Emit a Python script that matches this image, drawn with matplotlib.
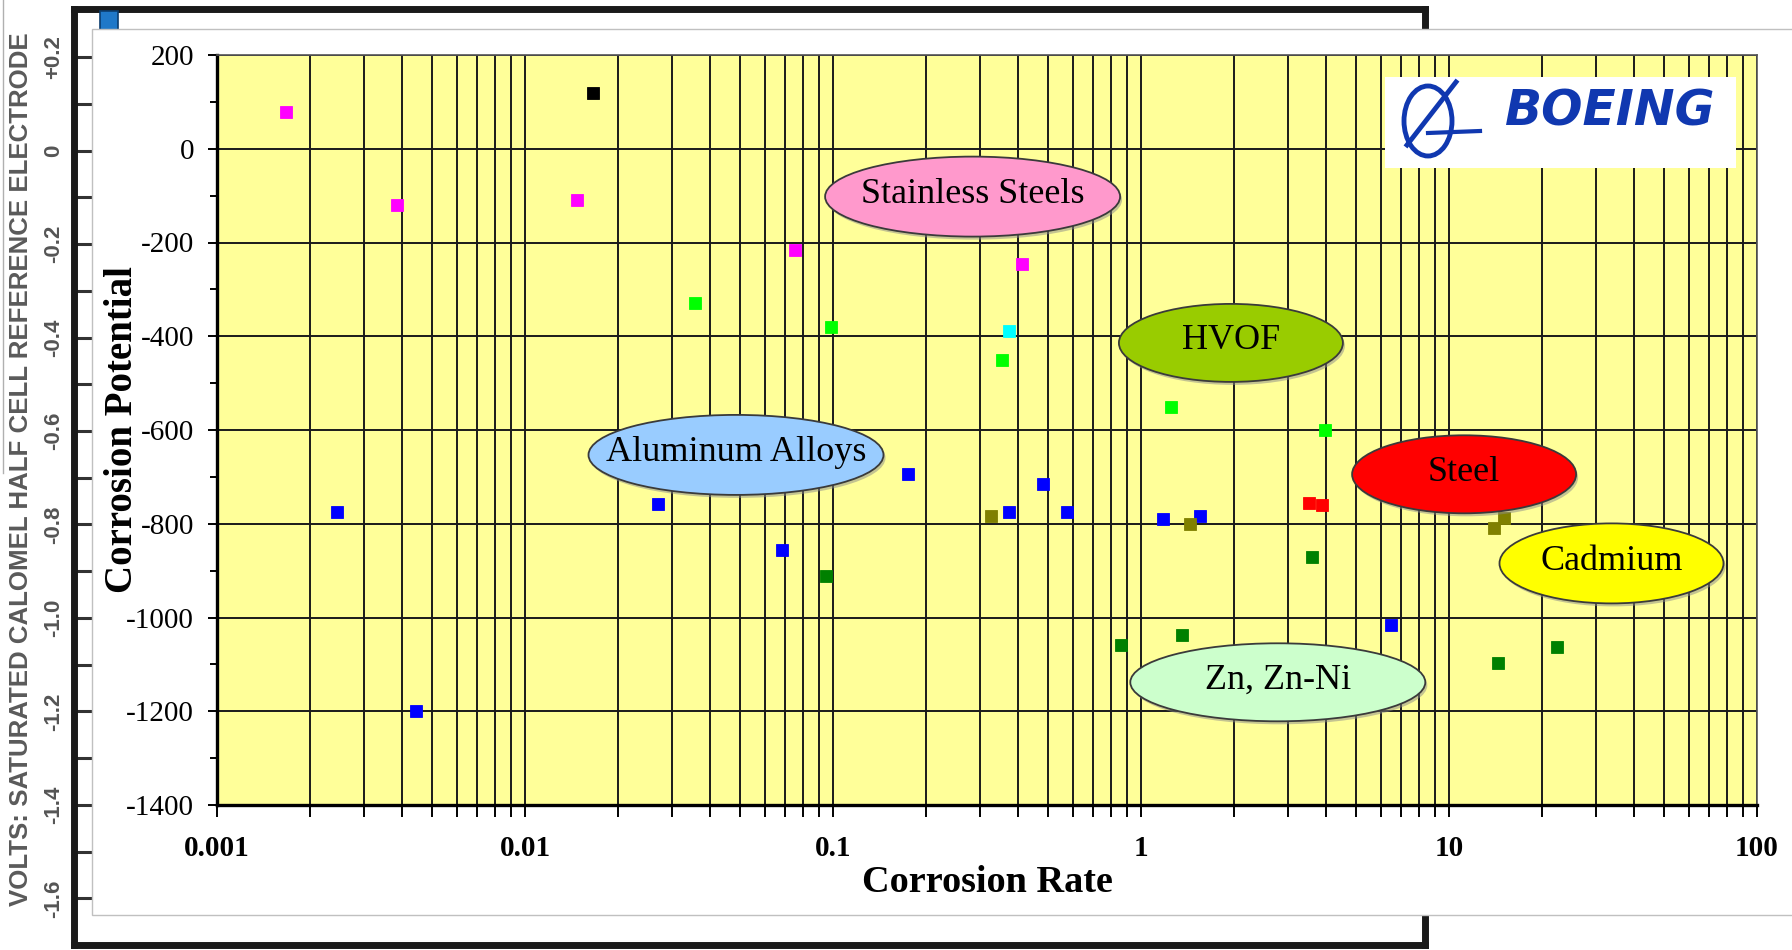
import numpy as np
import matplotlib
matplotlib.use('Agg')
import matplotlib.pyplot as plt
from matplotlib.patches import Ellipse, Rectangle
from matplotlib.lines import Line2D
from matplotlib.ticker import FixedLocator, NullFormatter

plt.rcParams['axes.unicode_minus'] = False

# ---------------- data ----------------
stainless_x = [0.00167, 0.00383, 0.0148, 0.0755, 0.41]
stainless_y = [78, -120, -110, -215, -245]
black_x = [0.0166]
black_y = [120]
lime_x = [0.0357, 0.0985, 0.355, 1.25, 3.95]
lime_y = [-330, -380, -450, -550, -600]
cyan_x = [0.373]
cyan_y = [-388]
blue_x = [0.00245, 0.00443, 0.0271, 0.0683, 0.175, 0.373, 0.479, 0.573, 1.18, 1.55, 6.49]
blue_y = [-775, -1200, -758, -857, -693, -775, -715, -775, -790, -784, -1015]
olive_x = [0.326, 1.44, 14.0, 15.1]
olive_y = [-784, -800, -808, -788]
red_x = [3.51, 3.88]
red_y = [-756, -760]
dgreen_x = [0.095, 0.863, 1.36, 3.60, 14.4, 22.4]
dgreen_y = [-912, -1058, -1037, -871, -1098, -1063]

series = [
    (stainless_x, stainless_y, '#FF00FF'),
    (black_x, black_y, '#000000'),
    (lime_x, lime_y, '#00FF00'),
    (cyan_x, cyan_y, '#00FFFF'),
    (blue_x, blue_y, '#0000FF'),
    (olive_x, olive_y, '#808000'),
    (red_x, red_y, '#FF0000'),
    (dgreen_x, dgreen_y, '#008000'),
]

group_labels = ['Stainless Steels', 'HVOF', 'Aluminum Alloys', 'Steel', 'Cadmium', 'Zn, Zn-Ni']
group_colors = ['#FF99CC', '#99CC00', '#99CCFF', '#FF0000', '#FFFF00', '#CCFFCC']

y_ticks = [200, 0, -200, -400, -600, -800, -1000, -1200, -1400]
y_ticklabels = ['200', '0', '-200', '-400', '-600', '-800', '-1000', '-1200', '-1400']
x_ticks = [0.001, 0.01, 0.1, 1, 10, 100]
x_ticklabels = ['0.001', '0.01', '0.1', '1', '10', '100']

volt_ticks = [0.2, 0.0, -0.2, -0.4, -0.6, -0.8, -1.0, -1.2, -1.4, -1.6]
volt_ticklabels = ['+0.2', '0', '-0.2', '-0.4', '-0.6', '-0.8', '-1.0', '-1.2', '-1.4', '-1.6']

# ---------------- figure ----------------
W, H = 1792, 950
fig = plt.figure(figsize=(W / 100, H / 100), dpi=100)
fig.patch.set_facecolor('white')

# background frame (secondary volts scale)
fl, fr, ft, fb = 74, 1425, 9, 945
axf = fig.add_axes([fl / W, 1 - fb / H, (fr - fl) / W, (fb - ft) / H])
axf.set_zorder(0)
axf.set_facecolor('white')
for s in axf.spines.values():
    s.set_linewidth(5)
    s.set_color('#1a1a1a')
axf.set_xticks([])
axf.set_ylim(-1.6995, 0.3027)
axf.yaxis.set_major_locator(FixedLocator(volt_ticks))
axf.set_yticklabels(volt_ticklabels, rotation=90, va='center',
                    fontsize=16, fontweight='bold', color='#555555',
                    family=['Liberation Sans', 'DejaVu Sans'])
axf.yaxis.set_minor_locator(FixedLocator(np.arange(-1.7, 0.31, 0.1)))
axf.tick_params(axis='y', which='both', direction='in', length=13, width=2.2,
                color='#333333', pad=7)
fig.text(21 / W, 1 - 469 / H, 'VOLTS: SATURATED CALOMEL HALF CELL REFERENCE ELECTRODE',
         rotation=90, ha='center', va='center', fontsize=18.6, fontweight='bold',
         color='#5a5a5a', family=['Liberation Sans', 'DejaVu Sans'])

# thin gray line at far left
fig.add_artist(Line2D([3 / W, 3 / W], [1.0, 1 - 473 / H], transform=fig.transFigure,
                      color='#b0b0b0', lw=1.0, zorder=0.5))
# small blue square
fig.add_artist(Rectangle((100 / W, 1 - 30 / H), 18 / W, 19 / H, transform=fig.transFigure,
                         facecolor='#1f78c8', edgecolor='#0b3d6e', lw=1.2, zorder=0.6))

# white panel
fig.add_artist(Rectangle((92 / W, 1 - 915 / H), (W - 92) / W + 0.01, (915 - 29) / H,
                         transform=fig.transFigure, facecolor='white',
                         edgecolor='#c0c0c0', lw=1.0, zorder=1))

# ---------------- main axes ----------------
al, ar, at, ab = 217, 1757, 55, 805
ax = fig.add_axes([al / W, 1 - ab / H, (ar - al) / W, (ab - at) / H])
ax.set_zorder(2)
ax.set_facecolor('#FFFF99')
ax.set_xscale('log')
ax.set_xlim(0.001, 100)
ax.set_ylim(-1400, 200)

ax.xaxis.set_major_locator(FixedLocator(x_ticks))
ax.set_xticklabels(x_ticklabels, fontsize=21, fontweight='bold',
                   family=['Liberation Serif', 'DejaVu Serif'])
minor_x = [m * 10.0 ** e for e in range(-3, 2) for m in range(2, 10)]
ax.xaxis.set_minor_locator(FixedLocator(minor_x))
ax.xaxis.set_minor_formatter(NullFormatter())
ax.yaxis.set_major_locator(FixedLocator(y_ticks))
ax.set_yticklabels(y_ticklabels, fontsize=21, family=['Liberation Serif', 'DejaVu Serif'])
ax.yaxis.set_minor_locator(FixedLocator(list(range(-1300, 200, 200))))

ax.tick_params(axis='x', which='both', direction='out', length=8.6, width=1.4,
               color='black', pad=13)
ax.tick_params(axis='y', which='major', direction='out', length=6.5, width=1.4,
               color='black', pad=10)
ax.tick_params(axis='y', which='minor', direction='out', length=5, width=1.4,
               color='black')

ax.grid(True, which='major', axis='both', color='#1a1a1a', lw=1.4, zorder=1)
ax.grid(True, which='minor', axis='x', color='#1a1a1a', lw=1.4, zorder=1)
ax.set_axisbelow(True)

for side in ['left', 'bottom']:
    ax.spines[side].set_linewidth(2.4)
    ax.spines[side].set_color('black')
for side in ['top', 'right']:
    ax.spines[side].set_linewidth(1.2)
    ax.spines[side].set_color('#555555')

for xs, ys, c in series:
    ax.plot(xs, ys, linestyle='none', marker='s', markersize=9, color=c,
            markeredgecolor=c, markeredgewidth=0.6, zorder=3, clip_on=False)

ax.set_xlabel('Corrosion Rate', fontsize=27.5, fontweight='bold',
              family=['Liberation Serif', 'DejaVu Serif'])
ax.xaxis.set_label_coords(0.5, -(882 - ab) / (ab - at))
ax.xaxis.label.set_va('center')
ax.set_ylabel('Corrosion Potential', fontsize=28, fontweight='bold',
              family=['Liberation Serif', 'DejaVu Serif'])
ax.yaxis.set_label_coords(-(al - 123) / (ar - al), 0.5)
ax.yaxis.label.set_va('center')


def fx(px):
    return (px - al) / (ar - al)


def fy(py):
    return 1 - (py - at) / (ab - at)


# ellipse labels (positions in full-pixel layout coordinates)
ell_layout = [
    (972.6, 196.6, 295, 80),
    (1230.9, 342.9, 224, 78),
    (736.0, 454.9, 295, 80),
    (1464.1, 474.3, 224, 78),
    (1611.5, 563.4, 224, 80),
    (1277.8, 682.3, 295, 78),
]
for (cx, cy, w, h), lab, col in zip(ell_layout, group_labels, group_colors):
    sh = Ellipse((fx(cx + 2), fy(cy + 3)), w / (ar - al), h / (ab - at),
                 transform=ax.transAxes, facecolor='#8a8a8a', edgecolor='none',
                 alpha=0.5, zorder=4)
    ax.add_patch(sh)
    e = Ellipse((fx(cx), fy(cy)), w / (ar - al), h / (ab - at), transform=ax.transAxes,
                facecolor=col, edgecolor='#3a3a3a', lw=1.3, zorder=4.5)
    ax.add_patch(e)
    ax.text(fx(cx), fy(cy - 2), lab, transform=ax.transAxes, ha='center', va='center',
            fontsize=26, family=['Liberation Serif', 'DejaVu Serif'], color='black',
            zorder=5)

# Boeing logo box
ax.add_patch(Rectangle((fx(1385), fy(168)), (1736 - 1385) / (ar - al), (168 - 77) / (ab - at),
                       transform=ax.transAxes, facecolor='white', edgecolor='none', zorder=5))
logo_blue = '#1038b0'
ax.add_patch(Ellipse((fx(1428), fy(121)), 48 / (ar - al), 70 / (ab - at),
                     transform=ax.transAxes, facecolor='none', edgecolor=logo_blue,
                     lw=3.5, zorder=6))
ax.add_line(Line2D([fx(1456), fx(1407)], [fy(82), fy(145)], transform=ax.transAxes,
                   color=logo_blue, lw=3.5, zorder=6))
ax.add_line(Line2D([fx(1428), fx(1480)], [fy(133), fy(131)], transform=ax.transAxes,
                   color=logo_blue, lw=3.0, zorder=6))
ax.text(fx(1610), fy(112), 'BOEING', transform=ax.transAxes, ha='center', va='center',
        fontsize=35, fontweight='bold', style='italic', color=logo_blue,
        family=['DejaVu Sans'], zorder=6)

fig.savefig('out.png', dpi=100)
